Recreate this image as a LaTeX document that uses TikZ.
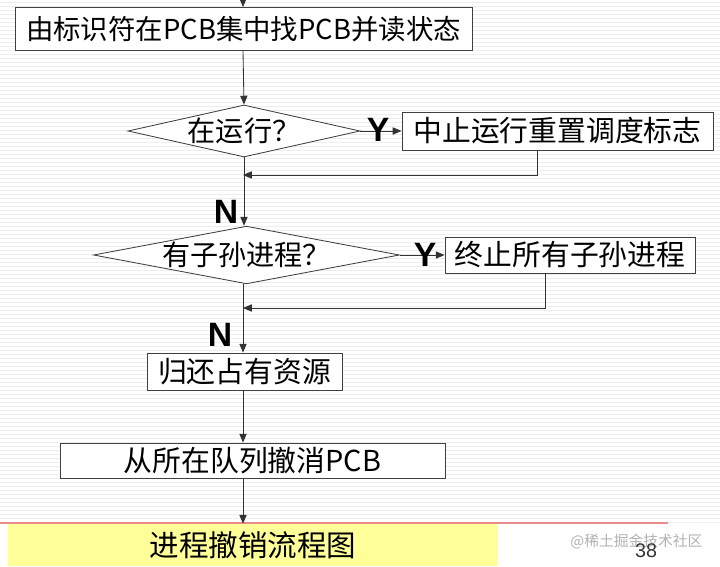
\documentclass[tikz,border=0pt]{standalone}
\usepackage{fontspec}
\setmainfont{Liberation Serif}
\newfontfamily\cjk{Noto Sans CJK SC}
\newfontfamily\ynfont{Liberation Sans}
\usepackage{tikz}
\usetikzlibrary{shapes.geometric,arrows.meta,positioning,calc}
\definecolor{slideyellow}{HTML}{FFFF99}
\definecolor{slidered}{HTML}{E88A8A}
\definecolor{stripe}{HTML}{EEEEEE}
\tikzset{
  procbox/.style={rectangle, draw=black!75, fill=white, line width=0.6pt, inner sep=0pt, align=center, font=\cjk\fontsize{20.5}{23}\selectfont},
  decision/.style={diamond, draw=black!75, fill=white, line width=0.6pt, inner sep=0pt, align=center, font=\cjk\fontsize{20}{23}\selectfont},
  flow/.style={draw=black!80, line width=0.6pt, -{Triangle[length=2.2mm,width=1.8mm]}},
  yn/.style={font=\ynfont\bfseries\fontsize{24}{24}\selectfont, inner sep=0pt},
}

\begin{document}
\begin{tikzpicture}[x=0.025cm, y=-0.025cm]
  \useasboundingbox (0,0) rectangle (720,566);
  % slide background
  \fill[white] (0,0) rectangle (720,566);
  \foreach \k in {2,6,...,522}
    \draw[stripe, line width=0.35pt] (0,\k) -- (720,\k);

  % boxes
  \node[procbox, minimum width=11.425cm, minimum height=1.075cm, font=\cjk\fontsize{19.5}{22}\selectfont] (find) at (243.5,29) {由标识符在PCB集中找PCB并读状态};
  \node[decision, minimum width=5.8cm, minimum height=1.3cm, aspect=4.5] (running) at (244,131) {在运行？};
  \node[procbox, minimum width=7.775cm, minimum height=0.95cm] (stopflag) at (557.5,131) {中止运行重置调度标志};
  \node[decision, minimum width=7.175cm, minimum height=1.35cm, aspect=5.3] (haschild) at (246.5,255) {有子孙进程？};
  \node[procbox, minimum width=6.25cm, minimum height=0.9cm] (killchild) at (570,255) {终止所有子孙进程};
  \node[procbox, minimum width=4.875cm, minimum height=0.925cm] (release) at (244.5,371.5) {归还占有资源};
  \node[procbox, minimum width=9.625cm, minimum height=0.875cm] (purge) at (252.5,460.5) {从所在队列撤消PCB};

  % caption bar
  \draw[slidered, line width=0.8pt] (0,523) -- (668,523);
  \node[rectangle, fill=slideyellow, inner sep=0pt, minimum width=12.25cm, minimum height=1.05cm, font=\cjk\fontsize{21}{24}\selectfont] (title) at (253,545) {进程撤销流程图};
  \node[font=\cjk\fontsize{10.5}{12}\selectfont, text=black!30, anchor=west, inner sep=0pt] (mark) at (570,541) {@稀土掘金技术社区};
  \node[font=\ynfont\fontsize{14}{14}\selectfont, text=black!80, inner sep=0pt] (page) at (646,551) {38};

  % connectors
  \coordinate (top) at (243,0);
  \coordinate (join1) at (243,175);
  \coordinate (join2) at (243,308);
  \draw[flow] (top) -- (find.north -| top);
  \draw[flow] (find.south -| top) -- (running.north);
  \draw[flow] (running.east) -- (stopflag.west);
  \draw[flow] ([xshift=-0.5cm]stopflag.south) |- (join1);
  \draw[flow] (running.south) -- (haschild.north -| running.south);
  \draw[flow] (haschild.east) -- (killchild.west);
  \draw[flow] ([xshift=-0.625cm]killchild.south) |- (join2);
  \draw[flow] (haschild.south -| top) -- (release.north -| top);
  \draw[flow] (release.south -| top) -- (purge.north -| top);
  \draw[flow] (purge.south -| top) -- (title.north -| top);

  % Y / N labels
  \node[yn] (y1) at (378,130) {Y};
  \node[yn] (n1) at (226,212) {N};
  \node[yn] (y2) at (425,255) {Y};
  \node[yn] (n2) at (220,335) {N};
\end{tikzpicture}
\end{document}
